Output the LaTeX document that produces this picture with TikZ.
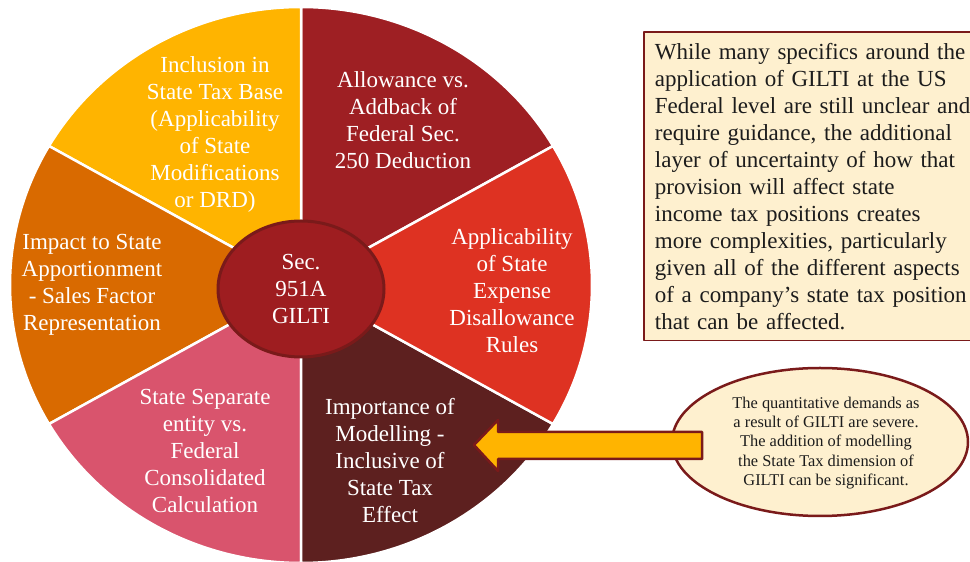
\documentclass[tikz,border=0pt]{standalone}
\usepackage{fontspec}
\setmainfont{Liberation Serif}
\usetikzlibrary{positioning,shapes.geometric}
\definecolor{gold}{HTML}{FFB400}
\definecolor{wine}{HTML}{9E1F23}
\definecolor{scarlet}{HTML}{DE3222}
\definecolor{umber}{HTML}{5D201F}
\definecolor{rose}{HTML}{D9546D}
\definecolor{amber}{HTML}{D96A00}
\definecolor{hubred}{HTML}{9E1D20}
\definecolor{rimred}{HTML}{7A1A1A}
\definecolor{cream}{HTML}{FEF0CF}
\definecolor{ink}{HTML}{1C1C1C}
\begin{document}
\begin{tikzpicture}[x=1pt,y=1pt,line join=round,
    sectxt/.style={text=white,align=center,font=\fontsize{23}{27}\selectfont},
    slice/.style={draw=white,line width=2.5pt}]
  \def\rx{291} \def\ry{278}
  \useasboundingbox (0,0) rectangle (970,562);
  \coordinate (O) at (301,277);
  % the six slices of the pie
  \foreach \a/\col in {30/wine,90/gold,150/amber,210/rose,270/umber,330/scarlet}
    \filldraw[slice,fill=\col] (O) -- ++({\rx*cos(\a)},{\ry*sin(\a)})
      arc[start angle=\a,delta angle=60,x radius=\rx,y radius=\ry] -- cycle;
  \node[sectxt] (base) at (215,428) {Inclusion in\\State Tax Base\\(Applicability\\of State\\Modifications\\or DRD)};
  \node[sectxt] (addback) at (403,442) {Allowance vs.\\Addback of\\Federal Sec.\\250 Deduction};
  \node[sectxt] (expense) at (512,271) {Applicability\\of State\\Expense\\Disallowance\\Rules};
  \node[sectxt] (model) at (390,101) {Importance of\\Modelling -\\Inclusive of\\State Tax\\Effect};
  \node[sectxt] (separate) at (205,111) {State Separate\\entity vs.\\Federal\\Consolidated\\Calculation};
  \node[sectxt] (apport) at (92,277) {Impact to State\\Apportionment\\- Sales Factor\\Representation};
  \node[sectxt,ellipse,draw=rimred,line width=3pt,fill=hubred,inner sep=0pt,
        minimum width=166pt,minimum height=136pt] (hub) at (301,273) {Sec.\\951A\\GILTI};
  % note box
  \node[draw=rimred,fill=cream,line width=1.8pt,anchor=north west,text=ink,
        text width=320pt,inner xsep=11pt,inner ysep=11pt,align=left,
        font=\fontsize{23}{27}\selectfont] (note) at (643,531)
    {While many specifics around the\\application of GILTI at the US\\Federal level are still unclear and\\require guidance, the additional\\layer of uncertainty of how that\\provision will affect state\\income tax positions creates\\more complexities, particularly\\given all of the different aspects\\of a company’s state tax position\\that can be affected.};
  % bubble and arrow
  \node[ellipse,draw=rimred,fill=cream,line width=2.5pt,inner sep=0pt,
        minimum width=296pt,minimum height=148pt] (quant) at (820,120) {};
  \node[text=ink,align=center,font=\fontsize{16.4}{19.2}\selectfont] (quanttxt) at (826,119)
    {The quantitative demands as\\a result of GILTI are severe.\\The addition of modelling\\the State Tax dimension of\\GILTI can be significant.};
  \coordinate (tip) at (474,117);
  \filldraw[draw=rimred,fill=gold,line width=2.5pt] (tip) -- ++(24,25) -- ++(0,-12) -- ++(204,0)
    -- ++(0,-27) -- ++(-204,0) -- ++(0,-12) -- cycle;
\end{tikzpicture}
\end{document}
